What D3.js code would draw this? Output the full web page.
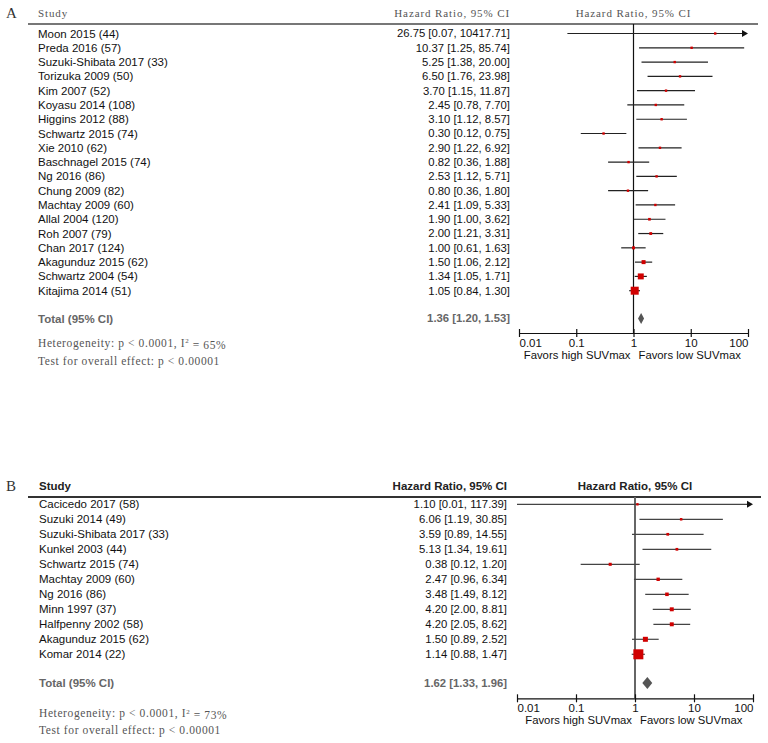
<!DOCTYPE html>
<html>
<head>
<meta charset="utf-8">
<script src="https://cdn.jsdelivr.net/npm/d3@7"></script>
<style>
  html, body { margin: 0; padding: 0; background: #fff; }
  svg { display: block; }
</style>
</head>
<body>
<svg id="chart" width="768" height="743"></svg>
<script>
// ---------------- DATA ----------------
const studiesA = ["Moon 2015 (44)", "Preda 2016 (57)", "Suzuki-Shibata 2017 (33)", "Torizuka 2009 (50)",
  "Kim 2007 (52)", "Koyasu 2014 (108)", "Higgins 2012 (88)", "Schwartz 2015 (74)", "Xie 2010 (62)",
  "Baschnagel 2015 (74)", "Ng 2016 (86)", "Chung 2009 (82)", "Machtay 2009 (60)", "Allal 2004 (120)",
  "Roh 2007 (79)", "Chan 2017 (124)", "Akagunduz 2015 (62)", "Schwartz 2004 (54)", "Kitajima 2014 (51)"];
const hrA   = [26.75, 10.37, 5.25, 6.50, 3.70, 2.45, 3.10, 0.30, 2.90, 0.82, 2.53, 0.80, 2.41, 1.90, 2.00, 1.00, 1.50, 1.34, 1.05];
const lowA  = [0.07, 1.25, 1.38, 1.76, 1.15, 0.78, 1.12, 0.12, 1.22, 0.36, 1.12, 0.36, 1.09, 1.00, 1.21, 0.61, 1.06, 1.05, 0.84];
const highA = [10417.71, 85.74, 20.00, 23.98, 11.87, 7.70, 8.57, 0.75, 6.92, 1.88, 5.71, 1.80, 5.33, 3.62, 3.31, 1.63, 2.12, 1.71, 1.30];
const weightsA = [0.5, 1, 1, 1, 1.2, 1.2, 1.3, 1.3, 1.5, 1.5, 1.5, 1.5, 1.6, 2, 2.2, 2.5, 4.5, 10, 18];
const totalA = [1.36, 1.20, 1.53];
const hetA = ["Heterogeneity: p < 0.0001, I", "2", " = 65%"];
const testA = "Test for overall effect: p < 0.00001";

const studiesB = ["Cacicedo 2017 (58)", "Suzuki 2014 (49)", "Suzuki-Shibata 2017 (33)", "Kunkel 2003 (44)",
  "Schwartz 2015 (74)", "Machtay 2009 (60)", "Ng 2016 (86)", "Minn 1997 (37)", "Halfpenny 2002 (58)",
  "Akagunduz 2015 (62)", "Komar 2014 (22)"];
const hrB   = [1.10, 6.06, 3.59, 5.13, 0.38, 2.47, 3.48, 4.20, 4.20, 1.50, 1.14];
const lowB  = [0.01, 1.19, 0.89, 1.34, 0.12, 0.96, 1.49, 2.00, 2.05, 0.89, 0.88];
const highB = [117.39, 30.85, 14.55, 19.61, 1.20, 6.34, 8.12, 8.81, 8.62, 2.52, 1.47];
const weightsB = [0.3, 1, 1.2, 1.2, 1.5, 1.8, 2, 2.5, 2.5, 4, 16];
const totalB = [1.62, 1.33, 1.96];
const hetB = ["Heterogeneity: p < 0.0001, I", "2", " = 73%"];
const testB = "Test for overall effect: p < 0.00001";

const tickValues = [0.01, 0.1, 1, 10, 100];
const tickLabels = ["0.01", "0.1", "1", "10", "100"];
const headerStudy = "Study";
const headerHR = "Hazard Ratio, 95% CI";
const totalLabel = "Total (95% CI)";
const favorsLeft = "Favors high SUVmax";
const favorsRight = "Favors low SUVmax";

// ---------------- DRAW ----------------
const svg = d3.select("#chart");
const fmt = d3.format(".2f");
const sans = "'Liberation Sans', Arial, sans-serif";
const serif = "'Liberation Serif', 'DejaVu Serif', serif";

function drawPanel(p) {
  const g = svg.append("g");
  const n = p.studies.length;
  const x = d3.scaleLog().domain([tickValues[0], tickValues[tickValues.length - 1]]).range([p.x0, p.x1]);
  const y = d3.scalePoint().domain(d3.range(n)).range([p.yFirst, p.yLast]);
  const size = d3.scaleSqrt().domain([0, d3.max(p.weights)]).range([0, p.maxSide]);

  // panel letter
  g.append("text").attr("x", 6).attr("y", p.headerY + 5)
    .attr("font-family", serif).attr("font-size", 15).attr("fill", "#333").text(p.letter);

  // headers
  const hStyle = sel => sel.attr("font-family", p.headerBold ? sans : serif)
    .attr("font-size", p.headerBold ? 11.5 : 11)
    .attr("font-weight", p.headerBold ? "bold" : "normal")
    .attr("letter-spacing", p.headerBold ? 0 : 0.9)
    .attr("fill", p.headerBold ? "#222" : "#555");
  g.append("text").attr("x", p.studyX).attr("y", p.headerY + 4).text(headerStudy).call(hStyle);
  g.append("text").attr("x", p.valueX).attr("y", p.headerY + 4).attr("text-anchor", "end").text(headerHR).call(hStyle);
  g.append("text").attr("x", x(1)).attr("y", p.headerY + 4).attr("text-anchor", "middle").text(headerHR).call(hStyle);
  g.append("line").attr("x1", 28).attr("x2", p.lineEnd).attr("y1", p.headerLineY).attr("y2", p.headerLineY)
    .attr("stroke", p.headerLineColor).attr("stroke-width", 2);

  // null line
  g.append("line").attr("x1", x(1)).attr("x2", x(1)).attr("y1", p.headerLineY).attr("y2", p.axisY)
    .attr("stroke", p.nullColor).attr("stroke-width", p.nullWidth);

  const rows = g.selectAll(".row").data(d3.range(n)).join("g").attr("class", "row");
  rows.append("text").attr("x", p.studyX).attr("y", i => y(i)).attr("dy", "0.35em")
    .attr("font-family", sans).attr("font-size", 11.5).attr("fill", "#111").text(i => p.studies[i]);
  rows.append("text").attr("x", p.valueX).attr("y", i => y(i)).attr("dy", "0.35em").attr("text-anchor", "end")
    .attr("font-family", sans).attr("font-size", 11.3).attr("fill", "#111")
    .text(i => `${fmt(p.hr[i])} [${fmt(p.low[i])}, ${fmt(p.high[i])}]`);

  const [dMin, dMax] = x.domain();
  rows.append("line")
    .attr("x1", i => x(Math.max(p.low[i], dMin)))
    .attr("x2", i => x(Math.min(p.high[i], dMax)) - (p.high[i] > dMax ? 4 : 0))
    .attr("y1", i => y(i)).attr("y2", i => y(i))
    .attr("stroke", p.ciColor).attr("stroke-width", 1.2);
  rows.filter(i => p.high[i] > dMax).append("path")
    .attr("d", i => `M${x(dMax)},${y(i)} l-6,-3.5 l0,7 z`).attr("fill", "#111");
  rows.filter(i => p.low[i] < dMin).append("path")
    .attr("d", i => `M${x(dMin)},${y(i)} l6,-3.5 l0,7 z`).attr("fill", "#111");
  rows.append("rect")
    .attr("x", i => x(p.hr[i]) - Math.max(2.4, size(p.weights[i])) / 2)
    .attr("y", i => y(i) - Math.max(2.4, size(p.weights[i])) / 2)
    .attr("width", i => Math.max(2.4, size(p.weights[i])))
    .attr("height", i => Math.max(2.4, size(p.weights[i])))
    .attr("fill", "#d00000");

  // total row
  g.append("text").attr("x", p.studyX).attr("y", p.totalY).attr("dy", "0.35em")
    .attr("font-family", sans).attr("font-size", 11.5).attr("font-weight", "bold").attr("fill", "#666").text(totalLabel);
  g.append("text").attr("x", p.valueX).attr("y", p.totalY).attr("dy", "0.35em").attr("text-anchor", "end")
    .attr("font-family", sans).attr("font-size", 11.3).attr("font-weight", "bold").attr("fill", "#666")
    .text(`${fmt(p.total[0])} [${fmt(p.total[1])}, ${fmt(p.total[2])}]`);
  g.append("path")
    .attr("d", `M${x(p.total[1])},${p.totalY} L${x(p.total[0])},${p.totalY - p.diamondH} L${x(p.total[2])},${p.totalY} L${x(p.total[0])},${p.totalY + p.diamondH} Z`)
    .attr("fill", "#555");

  // axis
  const axis = d3.axisBottom(x).tickValues(tickValues).tickFormat((d, i) => tickLabels[i])
    .tickSizeInner(4).tickSizeOuter(0).tickPadding(2);
  const ag = g.append("g").attr("transform", `translate(0,${p.axisY})`).call(axis);
  ag.select(".domain").attr("stroke", "#111").attr("stroke-width", 1.2);
  ag.selectAll(".tick line").attr("y1", -4).attr("y2", 4).attr("stroke", "#111").attr("stroke-width", 1.2);
  ag.selectAll(".tick text").attr("font-family", sans).attr("font-size", 11.5).attr("fill", "#111")
    .attr("text-anchor", (d, i) => i === 0 ? "start" : (i === tickValues.length - 1 ? "end" : "middle"));
  g.append("text").attr("x", x(1) - 3).attr("y", p.favorsY).attr("dy", "0.35em").attr("text-anchor", "end")
    .attr("font-family", sans).attr("font-size", 11.3).attr("fill", "#111").text(favorsLeft);
  g.append("text").attr("x", x(1) + 5).attr("y", p.favorsY).attr("dy", "0.35em").attr("text-anchor", "start")
    .attr("font-family", sans).attr("font-size", 11.3).attr("fill", "#111").text(favorsRight);

  // heterogeneity
  const het = g.append("text").attr("x", p.studyX).attr("y", p.hetY).attr("dy", "0.35em")
    .attr("font-family", serif).attr("font-size", 11.5).attr("letter-spacing", 0.6).attr("fill", "#555");
  het.append("tspan").text(p.het[0]);
  het.append("tspan").attr("dy", "-0.45em").attr("font-size", 7).text(p.het[1]);
  het.append("tspan").attr("dy", "0.45em").text(p.het[2]);
  g.append("text").attr("x", p.studyX).attr("y", p.testY).attr("dy", "0.35em")
    .attr("font-family", serif).attr("font-size", 11.5).attr("letter-spacing", 0.6).attr("fill", "#555").text(p.test);
}

drawPanel({
  letter: "A", studies: studiesA, hr: hrA, low: lowA, high: highA, weights: weightsA, total: totalA,
  het: hetA, test: testA, headerBold: false,
  x0: 519, x1: 748, studyX: 38, valueX: 510, headerY: 13, headerLineY: 24, lineEnd: 758,
  headerLineColor: "#777", nullColor: "#111", nullWidth: 1.2, ciColor: "#222",
  yFirst: 33.5, yLast: 290.7, maxSide: 8, totalY: 318.5, diamondH: 5.5,
  axisY: 333, favorsY: 355, hetY: 342.5, testY: 360.5
});
drawPanel({
  letter: "B", studies: studiesB, hr: hrB, low: lowB, high: highB, weights: weightsB, total: totalB,
  het: hetB, test: testB, headerBold: true,
  x0: 517, x1: 753, studyX: 39, valueX: 507, headerY: 486, headerLineY: 497, lineEnd: 761,
  headerLineColor: "#333", nullColor: "#666", nullWidth: 2, ciColor: "#444",
  yFirst: 504.3, yLast: 654.3, maxSide: 10, totalY: 683, diamondH: 6,
  axisY: 698.3, favorsY: 720, hetY: 713, testY: 730
});
</script>
</body>
</html>
